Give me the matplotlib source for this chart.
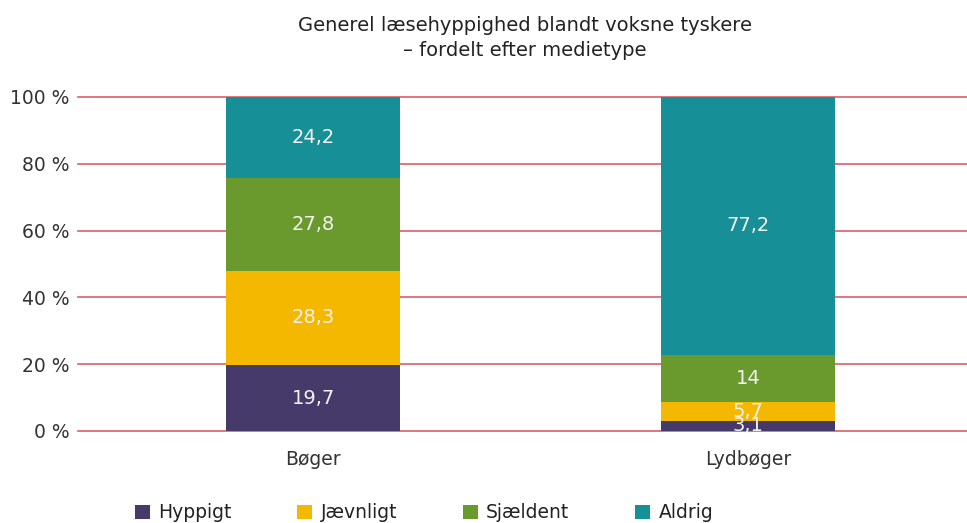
import matplotlib
matplotlib.use("Agg")
import matplotlib.pyplot as plt
from matplotlib.patches import Patch

categories = ["Bøger", "Lydbøger"]
series_names = ["Hyppigt", "Jævnligt", "Sjældent", "Aldrig"]
hyppigt = [19.7, 3.1]
jaevnligt = [28.3, 5.7]
sjaeldent = [27.8, 14]
aldrig = [24.2, 77.2]
yticks = [0, 20, 40, 60, 80, 100]
title = "Generel læsehyppighed blandt voksne tyskere\n– fordelt efter medietype"

colors = ["#463a6b", "#f5b800", "#6a992e", "#168f96"]
series = [hyppigt, jaevnligt, sjaeldent, aldrig]

plt.rcParams['font.family'] = ['DejaVu Sans']

fig = plt.figure(figsize=(9.67, 5.23), dpi=100)
ax = fig.add_axes([78/967, 1-431/523, (967-78)/967, (431-97)/523])

x = list(range(len(categories)))
bottom = [0.0]*len(categories)
for vals, col in zip(series, colors):
    ax.bar(x, vals, bottom=bottom, width=0.4, color=col, zorder=3)
    for xi, v, b in zip(x, vals, bottom):
        txt = ("%g" % v).replace(".", ",")
        ax.text(xi, b + v/2, txt, ha="center", va="center", color="#f2f2f2",
                fontsize=14, zorder=4)
    bottom = [b + v for b, v in zip(bottom, vals)]

ax.set_xlim((78-313)/435, (967-313)/435)
ax.set_ylim(0, 100)
ax.set_yticks(yticks)
ax.set_yticklabels(["%d %%" % t for t in yticks], fontsize=13.5, color="#333333")
ax.set_xticks(x)
ax.set_xticklabels(categories, fontsize=13.5, color="#333333")
ax.tick_params(axis="both", length=0)
ax.tick_params(axis="y", pad=6)
ax.tick_params(axis="x", pad=14)
for yt in yticks:
    ax.axhline(yt, color="#d9606b", lw=1.2, zorder=1, clip_on=False)
for s in ax.spines.values():
    s.set_visible(False)

fig.text(525/967, 1-38/523, title, ha="center", va="center", fontsize=14,
         color="#222222", linespacing=1.35)

handles = [Patch(facecolor=c, edgecolor="none") for c in colors]
fig.legend(handles, series_names, loc="center", bbox_to_anchor=(424/967, 1-513/523),
           ncol=4, frameon=False, fontsize=13.5, handlelength=0.8, handleheight=0.8,
           handletextpad=0.45, columnspacing=3.5, labelcolor="#222222")

fig.savefig("out.png", dpi=100)
